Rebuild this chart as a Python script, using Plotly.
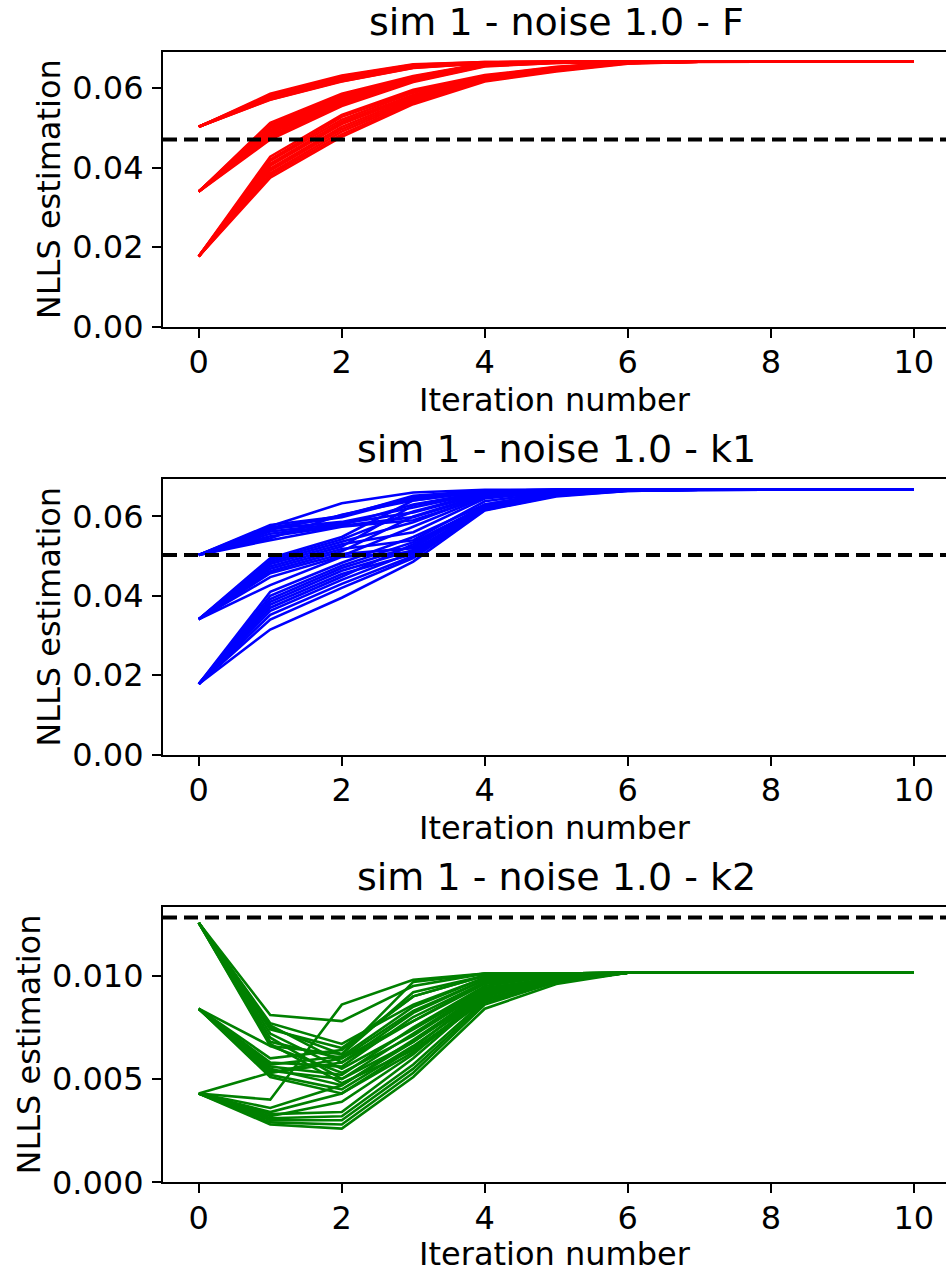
import plotly.graph_objects as go

iterations = [0, 1, 2, 3, 4, 5, 6, 7, 8, 9, 10]

F_runs = [
    [0.0503, 0.0586, 0.0632, 0.0660, 0.0666, 0.0667, 0.0667, 0.0667, 0.0667, 0.0667, 0.0667],
    [0.0503, 0.0583, 0.0630, 0.0659, 0.0666, 0.0667, 0.0667, 0.0667, 0.0667, 0.0667, 0.0667],
    [0.0503, 0.0582, 0.0627, 0.0657, 0.0665, 0.0667, 0.0667, 0.0667, 0.0667, 0.0667, 0.0667],
    [0.0503, 0.0580, 0.0626, 0.0657, 0.0665, 0.0667, 0.0667, 0.0667, 0.0667, 0.0667, 0.0667],
    [0.0503, 0.0578, 0.0624, 0.0655, 0.0665, 0.0666, 0.0667, 0.0667, 0.0667, 0.0667, 0.0667],
    [0.0503, 0.0577, 0.0623, 0.0655, 0.0664, 0.0666, 0.0667, 0.0667, 0.0667, 0.0667, 0.0667],
    [0.0503, 0.0575, 0.0621, 0.0654, 0.0664, 0.0666, 0.0667, 0.0667, 0.0667, 0.0667, 0.0667],
    [0.0503, 0.0574, 0.0620, 0.0653, 0.0664, 0.0666, 0.0667, 0.0667, 0.0667, 0.0667, 0.0667],
    [0.0503, 0.0572, 0.0618, 0.0652, 0.0663, 0.0666, 0.0667, 0.0667, 0.0667, 0.0667, 0.0667],
    [0.0503, 0.0571, 0.0617, 0.0651, 0.0663, 0.0666, 0.0667, 0.0667, 0.0667, 0.0667, 0.0667],
    [0.0340, 0.0513, 0.0586, 0.0631, 0.0663, 0.0666, 0.0667, 0.0667, 0.0667, 0.0667, 0.0667],
    [0.0340, 0.0508, 0.0582, 0.0629, 0.0662, 0.0666, 0.0667, 0.0667, 0.0667, 0.0667, 0.0667],
    [0.0340, 0.0504, 0.0579, 0.0628, 0.0662, 0.0666, 0.0667, 0.0667, 0.0667, 0.0667, 0.0667],
    [0.0340, 0.0500, 0.0576, 0.0626, 0.0661, 0.0666, 0.0667, 0.0667, 0.0667, 0.0667, 0.0667],
    [0.0340, 0.0495, 0.0573, 0.0624, 0.0660, 0.0665, 0.0667, 0.0667, 0.0667, 0.0667, 0.0667],
    [0.0340, 0.0491, 0.0569, 0.0623, 0.0659, 0.0665, 0.0667, 0.0667, 0.0667, 0.0667, 0.0667],
    [0.0340, 0.0486, 0.0566, 0.0621, 0.0658, 0.0665, 0.0667, 0.0667, 0.0667, 0.0667, 0.0667],
    [0.0340, 0.0481, 0.0562, 0.0620, 0.0657, 0.0665, 0.0667, 0.0667, 0.0667, 0.0667, 0.0667],
    [0.0340, 0.0476, 0.0559, 0.0618, 0.0656, 0.0664, 0.0667, 0.0667, 0.0667, 0.0667, 0.0667],
    [0.0340, 0.0471, 0.0555, 0.0616, 0.0655, 0.0664, 0.0667, 0.0667, 0.0667, 0.0667, 0.0667],
    [0.0177, 0.0428, 0.0533, 0.0596, 0.0633, 0.0654, 0.0666, 0.0667, 0.0667, 0.0667, 0.0667],
    [0.0177, 0.0421, 0.0528, 0.0592, 0.0631, 0.0653, 0.0666, 0.0667, 0.0667, 0.0667, 0.0667],
    [0.0177, 0.0417, 0.0521, 0.0589, 0.0629, 0.0652, 0.0665, 0.0667, 0.0667, 0.0667, 0.0667],
    [0.0177, 0.0410, 0.0515, 0.0584, 0.0628, 0.0651, 0.0665, 0.0667, 0.0667, 0.0667, 0.0667],
    [0.0177, 0.0405, 0.0510, 0.0580, 0.0626, 0.0650, 0.0665, 0.0667, 0.0667, 0.0667, 0.0667],
    [0.0177, 0.0398, 0.0503, 0.0576, 0.0624, 0.0649, 0.0664, 0.0667, 0.0667, 0.0667, 0.0667],
    [0.0177, 0.0393, 0.0497, 0.0572, 0.0622, 0.0647, 0.0664, 0.0667, 0.0667, 0.0667, 0.0667],
    [0.0177, 0.0386, 0.0491, 0.0568, 0.0620, 0.0646, 0.0664, 0.0667, 0.0667, 0.0667, 0.0667],
    [0.0177, 0.0381, 0.0484, 0.0564, 0.0619, 0.0644, 0.0663, 0.0667, 0.0667, 0.0667, 0.0667],
    [0.0177, 0.0375, 0.0478, 0.0560, 0.0617, 0.0642, 0.0662, 0.0667, 0.0667, 0.0667, 0.0667],
]

k1_runs = [
    [0.0503, 0.0578, 0.0600, 0.0652, 0.0665, 0.0667, 0.0667, 0.0667, 0.0667, 0.0667, 0.0667],
    [0.0503, 0.0575, 0.0633, 0.0660, 0.0667, 0.0667, 0.0667, 0.0667, 0.0667, 0.0667, 0.0667],
    [0.0503, 0.0572, 0.0598, 0.0645, 0.0664, 0.0667, 0.0667, 0.0667, 0.0667, 0.0667, 0.0667],
    [0.0503, 0.0569, 0.0586, 0.0622, 0.0660, 0.0666, 0.0667, 0.0667, 0.0667, 0.0667, 0.0667],
    [0.0503, 0.0566, 0.0603, 0.0648, 0.0664, 0.0667, 0.0667, 0.0667, 0.0667, 0.0667, 0.0667],
    [0.0503, 0.0562, 0.0582, 0.0610, 0.0656, 0.0665, 0.0667, 0.0667, 0.0667, 0.0667, 0.0667],
    [0.0503, 0.0556, 0.0578, 0.0630, 0.0661, 0.0666, 0.0667, 0.0667, 0.0667, 0.0667, 0.0667],
    [0.0503, 0.0550, 0.0576, 0.0598, 0.0652, 0.0664, 0.0667, 0.0667, 0.0667, 0.0667, 0.0667],
    [0.0503, 0.0545, 0.0604, 0.0640, 0.0663, 0.0666, 0.0667, 0.0667, 0.0667, 0.0667, 0.0667],
    [0.0503, 0.0540, 0.0574, 0.0590, 0.0648, 0.0663, 0.0667, 0.0667, 0.0667, 0.0667, 0.0667],
    [0.0341, 0.0495, 0.0548, 0.0640, 0.0664, 0.0667, 0.0667, 0.0667, 0.0667, 0.0667, 0.0667],
    [0.0341, 0.0490, 0.0542, 0.0612, 0.0660, 0.0666, 0.0667, 0.0667, 0.0667, 0.0667, 0.0667],
    [0.0341, 0.0485, 0.0536, 0.0585, 0.0652, 0.0665, 0.0667, 0.0667, 0.0667, 0.0667, 0.0667],
    [0.0341, 0.0480, 0.0530, 0.0560, 0.0645, 0.0663, 0.0667, 0.0667, 0.0667, 0.0667, 0.0667],
    [0.0341, 0.0474, 0.0524, 0.0628, 0.0662, 0.0666, 0.0667, 0.0667, 0.0667, 0.0667, 0.0667],
    [0.0341, 0.0468, 0.0518, 0.0540, 0.0638, 0.0661, 0.0667, 0.0667, 0.0667, 0.0667, 0.0667],
    [0.0341, 0.0462, 0.0512, 0.0600, 0.0655, 0.0664, 0.0667, 0.0667, 0.0667, 0.0667, 0.0667],
    [0.0341, 0.0457, 0.0505, 0.0520, 0.0630, 0.0659, 0.0667, 0.0667, 0.0667, 0.0667, 0.0667],
    [0.0341, 0.0447, 0.0500, 0.0575, 0.0648, 0.0663, 0.0667, 0.0667, 0.0667, 0.0667, 0.0667],
    [0.0341, 0.0427, 0.0498, 0.0510, 0.0625, 0.0657, 0.0667, 0.0667, 0.0667, 0.0667, 0.0667],
    [0.0178, 0.0410, 0.0483, 0.0548, 0.0630, 0.0660, 0.0666, 0.0667, 0.0667, 0.0667, 0.0667],
    [0.0178, 0.0400, 0.0476, 0.0535, 0.0626, 0.0658, 0.0666, 0.0667, 0.0667, 0.0667, 0.0667],
    [0.0178, 0.0392, 0.0470, 0.0525, 0.0622, 0.0656, 0.0665, 0.0667, 0.0667, 0.0667, 0.0667],
    [0.0178, 0.0385, 0.0463, 0.0515, 0.0620, 0.0655, 0.0665, 0.0667, 0.0667, 0.0667, 0.0667],
    [0.0178, 0.0378, 0.0455, 0.0505, 0.0618, 0.0654, 0.0665, 0.0667, 0.0667, 0.0667, 0.0667],
    [0.0178, 0.0370, 0.0448, 0.0530, 0.0624, 0.0657, 0.0666, 0.0667, 0.0667, 0.0667, 0.0667],
    [0.0178, 0.0362, 0.0440, 0.0510, 0.0619, 0.0654, 0.0665, 0.0667, 0.0667, 0.0667, 0.0667],
    [0.0178, 0.0352, 0.0430, 0.0500, 0.0617, 0.0653, 0.0665, 0.0667, 0.0667, 0.0667, 0.0667],
    [0.0178, 0.0340, 0.0420, 0.0495, 0.0616, 0.0652, 0.0664, 0.0667, 0.0667, 0.0667, 0.0667],
    [0.0178, 0.0315, 0.0395, 0.0486, 0.0615, 0.0650, 0.0664, 0.0667, 0.0667, 0.0667, 0.0667],
]

k2_runs = [
    [0.01256, 0.0081, 0.0078, 0.0095, 0.0101, 0.0101, 0.01014, 0.01014, 0.01014, 0.01014, 0.01014],
    [0.01256, 0.0077, 0.0067, 0.0086, 0.0099, 0.0101, 0.01014, 0.01014, 0.01014, 0.01014, 0.01014],
    [0.01256, 0.0076, 0.0058, 0.0078, 0.0096, 0.0100, 0.01014, 0.01014, 0.01014, 0.01014, 0.01014],
    [0.01256, 0.0075, 0.0062, 0.0092, 0.0100, 0.0101, 0.01014, 0.01014, 0.01014, 0.01014, 0.01014],
    [0.01256, 0.0072, 0.0055, 0.0074, 0.0094, 0.0099, 0.01014, 0.01014, 0.01014, 0.01014, 0.01014],
    [0.01256, 0.0070, 0.0050, 0.0068, 0.0091, 0.0098, 0.01014, 0.01014, 0.01014, 0.01014, 0.01014],
    [0.01256, 0.0068, 0.0060, 0.0083, 0.0098, 0.0100, 0.01014, 0.01014, 0.01014, 0.01014, 0.01014],
    [0.01256, 0.0067, 0.0048, 0.0064, 0.0089, 0.0097, 0.01014, 0.01014, 0.01014, 0.01014, 0.01014],
    [0.01256, 0.0066, 0.0053, 0.0071, 0.0093, 0.0099, 0.01014, 0.01014, 0.01014, 0.01014, 0.01014],
    [0.01256, 0.0074, 0.0065, 0.0090, 0.0100, 0.0101, 0.01014, 0.01014, 0.01014, 0.01014, 0.01014],
    [0.0084, 0.0066, 0.0062, 0.0097, 0.0101, 0.0101, 0.01014, 0.01014, 0.01014, 0.01014, 0.01014],
    [0.0084, 0.0060, 0.0064, 0.0090, 0.0100, 0.0101, 0.01014, 0.01014, 0.01014, 0.01014, 0.01014],
    [0.0084, 0.0058, 0.0056, 0.0080, 0.0097, 0.0100, 0.01014, 0.01014, 0.01014, 0.01014, 0.01014],
    [0.0084, 0.0056, 0.0052, 0.0075, 0.0095, 0.0100, 0.01014, 0.01014, 0.01014, 0.01014, 0.01014],
    [0.0084, 0.0055, 0.0047, 0.0069, 0.0092, 0.0099, 0.01014, 0.01014, 0.01014, 0.01014, 0.01014],
    [0.0084, 0.0053, 0.0058, 0.0082, 0.0098, 0.0100, 0.01014, 0.01014, 0.01014, 0.01014, 0.01014],
    [0.0084, 0.0052, 0.0045, 0.0066, 0.0090, 0.0098, 0.01014, 0.01014, 0.01014, 0.01014, 0.01014],
    [0.0084, 0.0057, 0.0061, 0.0085, 0.0099, 0.0101, 0.01014, 0.01014, 0.01014, 0.01014, 0.01014],
    [0.0084, 0.0054, 0.0050, 0.0072, 0.0094, 0.0099, 0.01014, 0.01014, 0.01014, 0.01014, 0.01014],
    [0.0084, 0.0051, 0.0043, 0.0063, 0.0088, 0.0097, 0.01014, 0.01014, 0.01014, 0.01014, 0.01014],
    [0.0043, 0.0053, 0.0060, 0.0078, 0.0097, 0.0100, 0.01014, 0.01014, 0.01014, 0.01014, 0.01014],
    [0.0043, 0.0040, 0.0086, 0.0098, 0.0101, 0.0101, 0.01014, 0.01014, 0.01014, 0.01014, 0.01014],
    [0.0043, 0.0036, 0.0047, 0.0068, 0.0093, 0.0099, 0.01014, 0.01014, 0.01014, 0.01014, 0.01014],
    [0.0043, 0.0033, 0.0034, 0.0060, 0.0090, 0.0098, 0.01014, 0.01014, 0.01014, 0.01014, 0.01014],
    [0.0043, 0.0031, 0.0032, 0.0057, 0.0088, 0.0098, 0.01014, 0.01014, 0.01014, 0.01014, 0.01014],
    [0.0043, 0.0030, 0.0030, 0.0055, 0.0087, 0.0097, 0.01014, 0.01014, 0.01014, 0.01014, 0.01014],
    [0.0043, 0.0029, 0.0028, 0.0053, 0.0086, 0.0097, 0.01014, 0.01014, 0.01014, 0.01014, 0.01014],
    [0.0043, 0.0028, 0.0026, 0.0051, 0.0084, 0.0096, 0.01014, 0.01014, 0.01014, 0.01014, 0.01014],
    [0.0043, 0.0032, 0.0039, 0.0062, 0.0091, 0.0098, 0.01014, 0.01014, 0.01014, 0.01014, 0.01014],
    [0.0043, 0.0034, 0.0043, 0.0065, 0.0092, 0.0099, 0.01014, 0.01014, 0.01014, 0.01014, 0.01014],
]

true_values = [0.0471, 0.0503, 0.01282]
panel_titles = ["sim 1 - noise 1.0 - F", "sim 1 - noise 1.0 - k1", "sim 1 - noise 1.0 - k2"]
line_colors = ["#ff0000", "#0000ff", "#008000"]
y_tickvals = [[0.00, 0.02, 0.04, 0.06], [0.00, 0.02, 0.04, 0.06], [0.000, 0.005, 0.010]]
y_tickformats = [".2f", ".2f", ".3f"]
y_ranges = [[0, 0.0692], [0, 0.0694], [0, 0.01334]]
x_tickvals = [0, 2, 4, 6, 8, 10]

W, H = 946, 1273
ML = 163
# pixel rows (top, bottom) of each axes box
boxes = [(51.7, 326.7), (479.0, 754.7), (906.7, 1182.3)]

FONT = "DejaVu Sans"
TICK_SIZE = 32
TITLE_SIZE = 38

fig = go.Figure()
all_runs = [F_runs, k1_runs, k2_runs]
for p, runs in enumerate(all_runs):
    xa = "x" if p == 0 else f"x{p+1}"
    ya = "y" if p == 0 else f"y{p+1}"
    for r in runs:
        fig.add_trace(go.Scatter(
            x=iterations, y=r, mode="lines", xaxis=xa, yaxis=ya,
            line=dict(color=line_colors[p], width=2.6), showlegend=False,
            hoverinfo="skip"))

layout = dict(
    width=W, height=H,
    margin=dict(l=ML, r=0, t=0, b=0, pad=0, autoexpand=False),
    paper_bgcolor="white", plot_bgcolor="white",
    font=dict(family=FONT, color="black", size=TICK_SIZE),
    showlegend=False,
)

shapes = []
annotations = []
for p in range(3):
    top, bot = boxes[p]
    dom = [1 - bot / H, 1 - top / H]
    xkey = "xaxis" if p == 0 else f"xaxis{p+1}"
    ykey = "yaxis" if p == 0 else f"yaxis{p+1}"
    xa = "x" if p == 0 else f"x{p+1}"
    ya = "y" if p == 0 else f"y{p+1}"
    layout[xkey] = dict(
        domain=[0, 1], anchor=ya, range=[-0.5, 10.45], automargin=False,
        tickvals=x_tickvals, ticks="outside", ticklen=9, tickwidth=2.1,
        tickcolor="black", showline=True, linecolor="black", linewidth=2.1,
        mirror=True, showgrid=False, zeroline=False,
        tickfont=dict(family=FONT, size=TICK_SIZE, color="black"),
        ticklabelstandoff=-3,
        title=dict(text="Iteration number", standoff=2,
                   font=dict(family=FONT, size=TICK_SIZE, color="black")),
    )
    layout[ykey] = dict(
        domain=dom, anchor=xa, range=y_ranges[p], automargin=False,
        tickvals=y_tickvals[p], tickformat=y_tickformats[p],
        ticks="outside", ticklen=9, tickwidth=2.1, tickcolor="black",
        showline=True, linecolor="black", linewidth=2.1, mirror=False,
        showgrid=False, zeroline=False,
        tickfont=dict(family=FONT, size=TICK_SIZE, color="black"),
        ticklabelstandoff=2,
        title=dict(text="NLLS estimation", standoff=2,
                   font=dict(family=FONT, size=TICK_SIZE, color="black")),
    )
    shapes.append(dict(
        type="line", xref=f"{xa} domain", yref=ya, x0=0, x1=1,
        y0=true_values[p], y1=true_values[p], layer="above",
        line=dict(color="black", width=4, dash="14px,7px")))
    annotations.append(dict(
        text=panel_titles[p], xref=f"{xa} domain", yref=f"{ya} domain",
        x=(556.5 - ML) / (W - ML), y=1, xanchor="center", yanchor="bottom",
        yshift=6, showarrow=False,
        font=dict(family=FONT, size=TITLE_SIZE, color="black")))

layout["shapes"] = shapes
layout["annotations"] = annotations
fig.update_layout(**layout)
fig.write_html(
    "out.html",
    config={"displayModeBar": False, "staticPlot": True},
    post_script="document.body.style.margin='0';document.body.style.overflow='hidden';",
)
